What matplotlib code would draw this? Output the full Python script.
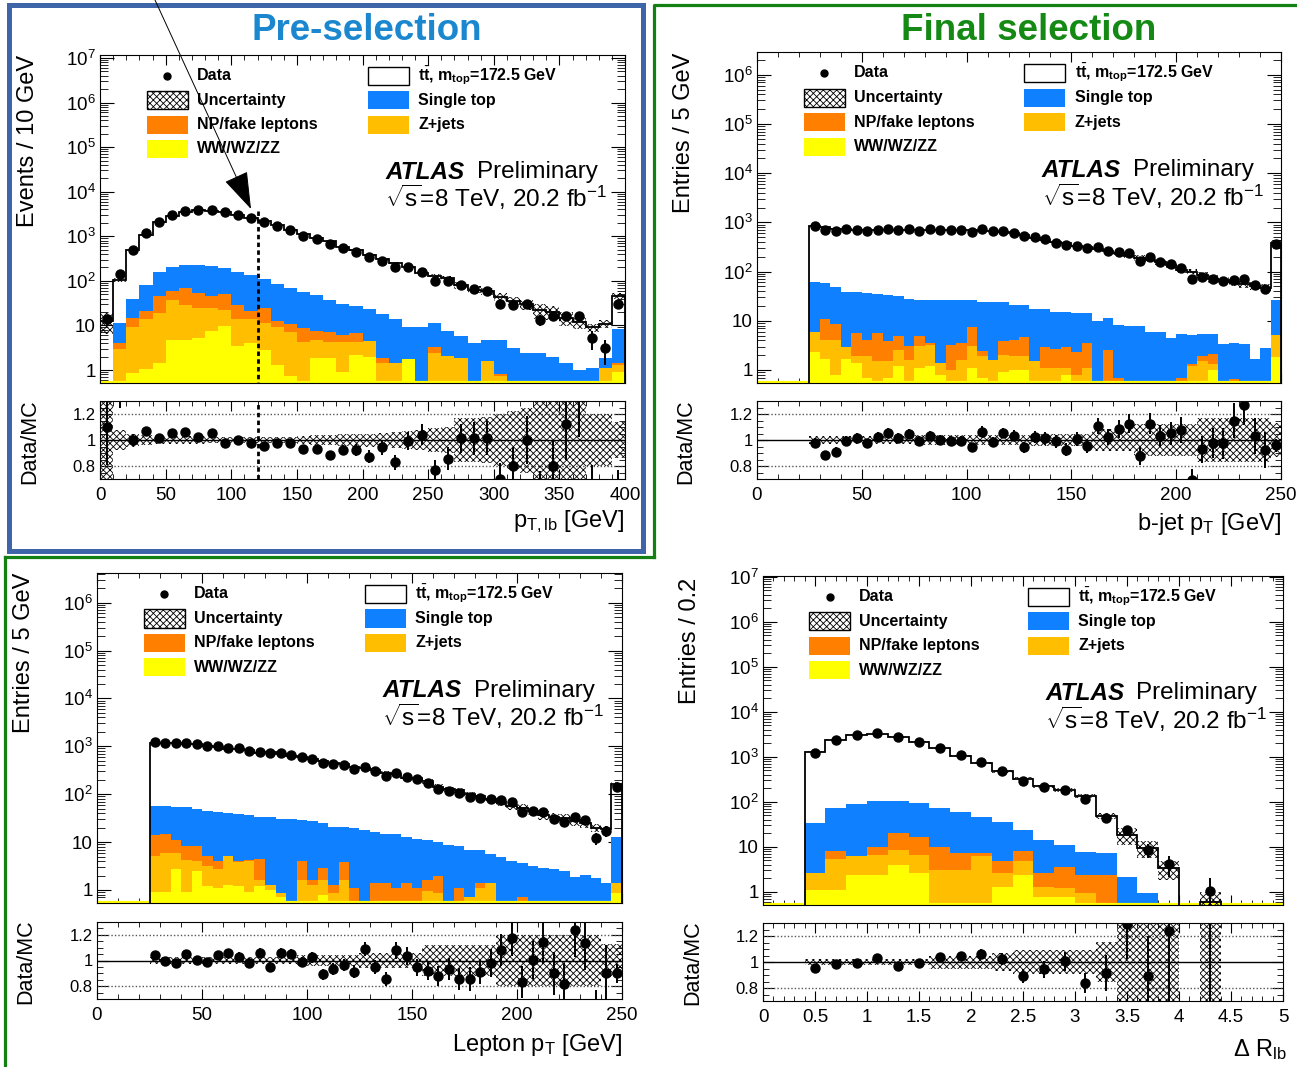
import numpy as np
import matplotlib
matplotlib.use('Agg')
import matplotlib.pyplot as plt
from matplotlib.patches import Rectangle, FancyArrowPatch
from matplotlib.lines import Line2D
from matplotlib.ticker import (MultipleLocator, LogLocator, FixedLocator,
                               FuncFormatter, NullFormatter, FormatStrFormatter,
                               NullLocator)

plt.rcParams['font.family'] = ['Liberation Sans', 'DejaVu Sans']
plt.rcParams['mathtext.fontset'] = 'custom'
plt.rcParams['mathtext.rm'] = 'Liberation Sans'
plt.rcParams['mathtext.it'] = 'Liberation Sans:italic'
plt.rcParams['mathtext.bf'] = 'Liberation Sans:bold'
plt.rcParams['hatch.linewidth'] = 0.6

W, H = 1297, 1067
NAN = np.nan

C_WW = '#ffff00'
C_ZJ = '#ffbf00'
C_FAKE = '#ff7f00'
C_STOP = '#0f80ff'
HATCH = 'xxxxx'

# stacked heights (top edge of each layer, events per bin)
# ratio = Data/MC read from the lower pads, unc = relative MC uncertainty

# --- p_T,lb (pre-selection), 10 GeV bins ---
p1_edges = np.arange(0, 410, 10)
p1_ww = [0, 0, 0.87, 1.04, 1.46, 4.7, 4.7, 5.1, 7.6, 9.7,
         3.45, 3.96, 2.8, 1.3, 0.73, 0, 1.9, 1.9, 0.92, 2.2,
         2.0, 0, 0, 1.8, 0, 0, 0, 0, 0, 0,
         0, 0, 0, 0, 0, 0, 0, 0, 0, 0.9]
p1_zjets = [0, 2.9, 9.0, 14, 18.7, 37, 28.6, 24, 24, 22,
            14.1, 13.7, 11.5, 9.0, 7.2, 4.3, 4.7, 4.3, 4.3, 4.3,
            4.5, 1.4, 1.4, 1.8, 0, 2.45, 2.06, 1.83, 0, 1.6,
            0.73, 0, 0, 0, 0, 0, 0, 0, 1.1, 1.3]
p1_fake = [0, 4.1, 15, 21, 45.7, 60, 68, 54, 45.7, 50.6,
           28.6, 21, 25, 12.7, 10.8, 8.6, 7.6, 7.1, 6.1, 6.6,
           4.5, 1.9, 1.4, 1.8, 0, 3.2, 2.06, 1.83, 0, 1.6,
           0.81, 0, 0, 0, 0, 0, 0, 0, 1.1, 1.4]
p1_stop = [0, 11.5, 39, 79, 155, 200, 230, 230, 214, 190,
           155, 135, 113, 85, 71, 57, 48, 38, 31, 27,
           23, 18, 13.7, 9, 9, 11.5, 7.6, 5.8, 4.1, 4.7,
           4.7, 3.06, 2.4, 2.4, 2.0, 1.46, 1.0, 1.09, 1.9, 8.2]
p1_total = [12.6, 105, 495, 1096, 2073, 2852, 3556, 3824, 3784, 3571,
            3030, 2618, 2165, 1766, 1417, 1118, 925, 770, 586, 488,
            389, 302, 253, 206, 154, 131, 117, 80, 64, 59,
            44, 36, 30, 22, 20.4, 14.6, 12, 9.1, 11, 46]
p1_ratio = [1.10, 1.36, 1.00, 1.068, 1.013, 1.052, 1.06, 1.02, 1.052, 0.98,
            1.00, 0.974, 0.956, 0.974, 0.974, 0.93, 0.93, 0.883, 0.922, 0.922,
            0.873, 0.943, 0.83, 0.995, 1.04, 0.766, 0.857, 1.013, 1.013, 1.013,
            0.70, 0.80, 1.00, 0.60, 0.80, 1.12, 1.36, 0.56, 0.28, 0.65]
p1_unc = [0.5, 0.08, 0.05, 0.04, 0.03, 0.03, 0.03, 0.03, 0.025, 0.025,
          0.02, 0.02, 0.02, 0.025, 0.025, 0.03, 0.035, 0.04, 0.045, 0.05,
          0.05, 0.055, 0.06, 0.07, 0.08, 0.09, 0.1, 0.17, 0.17, 0.18,
          0.2, 0.22, 0.25, 0.35, 0.35, 0.35, 0.3, 0.2, 0.2, 0.14]

# --- b-jet p_T (final selection), 5 GeV bins ---
p2_edges = np.arange(0, 255, 5)
p2_ww = [0, 0, 0, 0, 0, 2.3, 1.7, 0.8, 1.7, 1.4,
         0.7, 0, 0.7, 1.2, 0, 1.1, 1.2, 0.8, 0, 0,
         1.1, 0.7, 0, 0.9, 1.0, 1.0, 0, 0, 0, 0.8,
         0, 0, 0, 0, 0, 0, 0, 0, 0, 0,
         0, 0, 0.6, 1.0, 0, 0, 0, 0, 0, 1.8]
p2_zjets = [0, 0, 0, 0, 0, 6.0, 4.1, 4.1, 3.0, 1.9,
            1.9, 1.5, 1.5, 2.5, 1.6, 3.1, 3.2, 1.4, 1.0, 1.6,
            3.1, 1.9, 1.6, 2.0, 1.9, 1.9, 1.5, 1.1, 1.1, 1.1,
            0.8, 1.1, 0, 0, 0, 0, 0, 0, 0, 0,
            0, 1.2, 1.5, 1.3, 0, 0, 0, 0, 0, 5.1]
p2_fake = [0, 0, 0, 0, 0, 6.0, 11, 8.6, 3.0, 5.7,
           4.0, 5.7, 3.9, 4.9, 3.1, 5.0, 3.6, 1.4, 3.2, 3.5,
           7.6, 2.4, 1.6, 3.9, 4.0, 4.6, 1.5, 2.9, 2.7, 2.9,
           2.3, 3.5, 0, 2.5, 0.7, 0, 0, 0, 0, 0,
           0.7, 1.3, 1.9, 2.1, 0.6, 0.66, 0, 0, 0, 5.1]
p2_stop = [0, 0, 0, 0, 0, 60, 58, 49, 39, 39,
           36, 35, 33, 32, 28, 27, 27, 27, 27, 26,
           27, 24, 24, 24, 21, 20.5, 17, 17.6, 15.3, 15.3,
           14.5, 14.5, 10, 11.5, 8.2, 7.8, 7.8, 6.0, 6.0, 4.4,
           5.3, 5.1, 5.5, 5.5, 3.4, 3.5, 3.3, 1.7, 2.85, 26]
p2_total = [0, 0, 0, 0, 0, 860, 800, 750, 720, 700,
            700, 690, 705, 690, 690, 690, 700, 700, 690, 690,
            690, 680, 670, 630, 600, 560, 490, 445, 390, 375,
            330, 310, 290, 260, 235, 210, 190, 175, 154, 136,
            108, 100, 85, 72, 66, 60, 55, 52, 47, 380]
p2_ratio = [NAN, NAN, NAN, NAN, NAN, 0.979, 0.883, 0.909, 0.995, 1.013,
            0.974, 1.021, 1.055, 1.013, 1.047, 0.99, 1.034, 1.0, 0.995, 0.995,
            0.943, 1.065, 0.987, 1.055, 1.034, 0.943, 1.021, 1.013, 0.99, 0.925,
            1.008, 0.953, 1.11, 1.021, 1.086, 1.125, 0.878, 1.125, 1.034, 1.052,
            1.078, 0.696, 0.93, 0.977, 0.974, 1.15, 1.27, 1.03, 0.922, 0.96]
p2_unc = [0, 0, 0, 0, 0, 0.03, 0.03, 0.03, 0.03, 0.03,
          0.03, 0.03, 0.03, 0.03, 0.03, 0.035, 0.035, 0.035, 0.035, 0.035,
          0.035, 0.035, 0.035, 0.035, 0.035, 0.035, 0.045, 0.045, 0.045, 0.045,
          0.045, 0.045, 0.085, 0.085, 0.085, 0.085, 0.12, 0.12, 0.12, 0.12,
          0.12, 0.12, 0.17, 0.17, 0.17, 0.17, 0.17, 0.17, 0.17, 0.13]

# --- lepton p_T (final selection), 5 GeV bins ---
p3_edges = np.arange(0, 255, 5)
p3_ww = [0, 0, 0, 0, 0, 0.9, 0.9, 2.7, 0.9, 2.5,
         1.2, 1.1, 1.3, 1.2, 0.9, 1.2, 1.0, 0.7, 0, 0,
         0, 0.8, 0, 0, 0, 0, 0, 0, 0, 0,
         0, 0, 0, 0, 0, 0, 0, 0, 0, 0,
         0, 0, 0, 0, 0, 0, 0, 0, 0, 0.85]
p3_zjets = [0, 0, 0, 0, 0, 5.2, 5.8, 5.8, 4.2, 4.0,
            3.1, 2.7, 5.2, 3.8, 4.0, 1.6, 1.3, 0.85, 0, 1.6,
            1.3, 1.6, 0.85, 1.6, 0, 0, 0, 0, 0, 0,
            0, 0.95, 0.85, 0, 0, 0.7, 1.1, 1.4, 0, 0,
            0, 0, 0, 0, 0, 0, 0, 0, 0, 1.4]
p3_fake = [0, 0, 0, 0, 0, 14.4, 15, 10.8, 8.3, 8.1,
           5.2, 4.1, 5.2, 4.1, 4.2, 4.5, 1.3, 0.85, 0, 4.1,
           1.6, 2.9, 1.3, 3.8, 1.1, 0, 1.4, 1.4, 1.1, 1.4,
           1.1, 1.6, 2.0, 0, 1.1, 0.7, 1.4, 1.4, 0, 0,
           0.7, 0, 0, 0, 0, 0, 0, 0, 0, 1.4]
p3_stop = [0, 0, 0, 0, 0, 56, 56, 55, 53, 50,
           45, 43, 40, 38, 36, 34, 33, 31, 30, 29,
           27, 24.5, 21, 21, 19.5, 18, 16.5, 15, 14.5, 12.6,
           11.7, 10.8, 10, 8.7, 8.1, 7, 7, 5.6, 4.8, 4.1,
           3.6, 3.1, 2.9, 2.7, 2.5, 1.9, 2.1, 1.8, 1.43, 12.6]
p3_total = [0, 0, 0, 0, 0, 1200, 1190, 1200, 1135, 1115,
            1030, 975, 885, 880, 825, 730, 770, 675, 627, 597,
            538, 493, 458, 428, 363, 346, 327, 281, 262, 217,
            215, 189, 143, 126, 122, 101, 90, 80, 70, 58,
            52, 45, 37, 33, 32, 27, 25, 20, 19, 160]
p3_ratio = [NAN, NAN, NAN, NAN, NAN, 1.039, 1.0, 0.984, 1.049, 1.005,
            0.987, 1.044, 1.057, 1.031, 0.984, 1.057, 0.953, 1.057, 1.049, 0.987,
            1.026, 0.894, 0.932, 0.966, 0.912, 1.088, 0.948, 0.855, 1.078, 1.036,
            0.948, 0.92, 0.88, 0.935, 0.855, 0.855, 0.914, 0.979, 1.083, 1.174,
            0.834, 1.005, 1.145, 0.90, 0.82, 1.24, 1.14, 0.60, 0.90, 0.90]
p3_unc = [0, 0, 0, 0, 0, 0.03, 0.03, 0.03, 0.03, 0.03,
          0.03, 0.03, 0.03, 0.03, 0.03, 0.03, 0.03, 0.03, 0.03, 0.04,
          0.04, 0.04, 0.04, 0.04, 0.04, 0.06, 0.06, 0.06, 0.06, 0.06,
          0.06, 0.12, 0.12, 0.12, 0.12, 0.12, 0.12, 0.12, 0.2, 0.2,
          0.2, 0.2, 0.2, 0.2, 0.2, 0.2, 0.2, 0.2, 0.13, 0.13]

# --- Delta R_lb (final selection), 0.2 bins ---
p4_edges = np.linspace(0, 5, 26)
p4_ww = [0, 0, 1.09, 1.09, 2.35, 2.35, 3.9, 2.6, 0, 0, 0, 1.3, 2.35,
         0.77, 0.77, 0, 0, 0, 0, 0, 0, 0, 0, 0, 0]
p4_zjets = [0, 0, 2.6, 5.2, 6.2, 6.5, 8.4, 6.7, 3.0, 3.0, 6.2, 2.6, 4.8,
            1.3, 1.2, 0.92, 0, 0, 0, 0, 0, 0, 0, 0, 0]
p4_fake = [0, 0, 2.6, 8.0, 6.2, 9.7, 19.8, 16.7, 9.7, 7.1, 7.3, 4.8, 8.0,
           2.6, 3.6, 2.35, 2.35, 0, 0, 0, 0, 0, 0, 0, 0]
p4_stop = [0, 0, 34, 71, 88, 105, 105, 92, 71, 60, 46, 36, 23.5,
           14, 11, 7.5, 7.1, 2.15, 0.92, 0, 0, 0, 0, 0, 0]
p4_total = [0, 0, 1283, 2376, 3050, 3200, 2778, 2130, 1525, 1025, 715, 471, 328,
            221, 181, 135, 48, 18.6, 9.4, 3.3, 0, 0.6, 0, 0, 0]
p4_ratio = [NAN, NAN, 0.956, 0.987, 0.995, 1.034, 0.972, 0.995, 1.039, 1.044,
            1.065, 1.02, 0.894, 0.946, 1.005, 0.837, 0.917, 1.29, 0.89, 1.24,
            NAN, 1.7, NAN, NAN, NAN]
p4_unc = [0, 0, 0.025, 0.025, 0.025, 0.025, 0.025, 0.025, 0.05, 0.05, 0.05,
          0.07, 0.09, 0.09, 0.09, 0.09, 0.155, 0.4, 0.4, 0.45, 0, 0.6, 0, 0, 0]

legend_left = ['Data', 'Uncertainty', 'NP/fake leptons', 'WW/WZ/ZZ']
legend_right = [r'$\mathbf{t}\bar{\mathbf{t}}$, m$_{\mathbf{top}}$=172.5 GeV',
                'Single top', 'Z+jets']


def to_rect(x0, y0, x1, y1):
    return [x0 / W, 1 - y1 / H, (x1 - x0) / W, (y1 - y0) / H]


def pos(v):
    v = np.asarray(v, dtype=float)
    return np.where(v > 0, v, 1e-3)


def decade_label(v, _):
    if v <= 0:
        return ''
    n = int(round(np.log10(v)))
    if n == 0:
        return '1'
    if n == 1:
        return '10'
    return r'$10^{%d}$' % n


def draw_legend(ax):
    rows = [0.937, 0.862, 0.788, 0.714]
    sw, sh = 0.078, 0.055
    lx, rx = 0.089, 0.51
    kw = dict(transform=ax.transAxes, fontsize=11.5, fontweight='bold',
              va='center', ha='left', zorder=30)
    ax.plot([lx + sw / 2], [rows[0]], 'o', color='black', ms=5,
            transform=ax.transAxes, clip_on=False, zorder=30)
    ax.add_patch(Rectangle((lx, rows[1] - sh / 2), sw, sh, transform=ax.transAxes,
                           facecolor='white', edgecolor='black', hatch=HATCH,
                           lw=1, zorder=30))
    ax.add_patch(Rectangle((lx, rows[2] - sh / 2), sw, sh, transform=ax.transAxes,
                           facecolor=C_FAKE, edgecolor='none', zorder=30))
    ax.add_patch(Rectangle((lx, rows[3] - sh / 2), sw, sh, transform=ax.transAxes,
                           facecolor=C_WW, edgecolor='none', zorder=30))
    for r, lab in zip(rows, legend_left):
        ax.text(0.185, r, lab, **kw)
    ax.add_patch(Rectangle((rx, rows[0] - sh / 2), sw, sh, transform=ax.transAxes,
                           facecolor='white', edgecolor='black', lw=1, zorder=30))
    ax.add_patch(Rectangle((rx, rows[1] - sh / 2), sw, sh, transform=ax.transAxes,
                           facecolor=C_STOP, edgecolor='none', zorder=30))
    ax.add_patch(Rectangle((rx, rows[2] - sh / 2), sw, sh, transform=ax.transAxes,
                           facecolor=C_ZJ, edgecolor='none', zorder=30))
    for r, lab in zip(rows, legend_right):
        ax.text(0.606, r, lab, **kw)
    ax.text(0.543, 0.643, 'ATLAS', transform=ax.transAxes, fontsize=17.5,
            fontweight='bold', fontstyle='italic', va='center', ha='left', zorder=30)
    ax.text(0.718, 0.643, 'Preliminary', transform=ax.transAxes, fontsize=17.5,
            va='center', ha='left', zorder=30)
    ax.text(0.543, 0.565, r'$\sqrt{\mathrm{s}}$=8 TeV, 20.2 fb$^{-1}$',
            transform=ax.transAxes, fontsize=17.5, va='center', ha='left', zorder=30)


def draw_panel(fig, main_box, ratio_box, edges, ww, zj, fake, stop, total,
               ratio, unc, ylim, xmaj, xmin):
    ax = fig.add_axes(to_rect(*main_box))
    rax = fig.add_axes(to_rect(*ratio_box))
    edges = np.asarray(edges, dtype=float)
    centers = 0.5 * (edges[1:] + edges[:-1])
    widths = np.diff(edges)
    total = np.asarray(total, dtype=float)
    ratio = np.asarray(ratio, dtype=float)
    unc = np.asarray(unc, dtype=float)

    layers = [(total, 'white'), (stop, C_STOP), (fake, C_FAKE), (zj, C_ZJ), (ww, C_WW)]
    for z, (lvl, col) in enumerate(layers):
        ax.stairs(pos(lvl), edges, baseline=1e-3, fill=True, facecolor=col,
                  edgecolor='none', lw=0, zorder=1 + z)
    ax.axhline(ylim[0], color=C_WW, lw=3, zorder=6)
    ax.stairs(pos(total), edges, baseline=1e-3, fill=False, color='black',
              lw=1.3, zorder=7)
    has = total > 0
    ax.bar(centers[has], 2 * unc[has] * total[has], bottom=total[has] * (1 - unc[has]),
           width=widths[has], fill=False, hatch=HATCH, edgecolor='black', lw=0, zorder=8)
    data = total * ratio
    ok = np.isfinite(data) & (data > 0)
    ax.errorbar(centers[ok], data[ok], yerr=np.sqrt(data[ok]), fmt='o', ms=6.5,
                color='black', elinewidth=1.4, capsize=0, zorder=9)

    ax.set_yscale('log')
    ax.set_xlim(edges[0], edges[-1])
    ax.set_ylim(*ylim)
    ax.xaxis.set_major_locator(MultipleLocator(xmaj))
    ax.xaxis.set_minor_locator(MultipleLocator(xmin))
    ax.yaxis.set_major_locator(LogLocator(base=10, numticks=30))
    ax.yaxis.set_minor_locator(LogLocator(base=10, subs=np.arange(2, 10), numticks=30))
    ax.yaxis.set_major_formatter(FuncFormatter(decade_label))
    ax.yaxis.set_minor_formatter(NullFormatter())
    ax.tick_params(which='both', direction='in', top=True, right=True,
                   labelbottom=False, labelsize=13.5)
    ax.tick_params(axis='y', which='major', length=10, pad=3)
    ax.tick_params(axis='y', which='minor', length=5.5)
    ax.tick_params(axis='x', which='major', length=7)
    ax.tick_params(axis='x', which='minor', length=3.5)
    for sp in ax.spines.values():
        sp.set_zorder(20)
    draw_legend(ax)

    # ratio pad
    rax.axhline(1.0, color='black', lw=1, zorder=2)
    rax.axhline(1.2, color='#555555', lw=1, ls=(0, (1, 1.5)), zorder=2)
    rax.axhline(0.8, color='#555555', lw=1, ls=(0, (1, 1.5)), zorder=2)
    rax.bar(centers[has], 2 * unc[has], bottom=1 - unc[has], width=widths[has],
            fill=False, hatch=HATCH, edgecolor='black', lw=0, zorder=3)
    rax.errorbar(centers[ok], ratio[ok], yerr=np.sqrt(data[ok]) / total[ok], fmt='o',
                 ms=6.5, color='black', elinewidth=1.4, capsize=0, zorder=5)
    rax.set_xlim(edges[0], edges[-1])
    rax.set_ylim(0.7, 1.3)
    rax.yaxis.set_major_locator(FixedLocator([0.8, 1.0, 1.2]))
    rax.yaxis.set_minor_locator(FixedLocator([0.75, 0.85, 0.9, 0.95, 1.05, 1.1, 1.15, 1.25]))
    rax.yaxis.set_major_formatter(FormatStrFormatter('%g'))
    rax.xaxis.set_major_locator(MultipleLocator(xmaj))
    rax.xaxis.set_minor_locator(MultipleLocator(xmin))
    rax.xaxis.set_major_formatter(FormatStrFormatter('%g'))
    rax.tick_params(which='both', direction='in', top=True, right=True, labelsize=13.5)
    rax.tick_params(axis='y', labelsize=12)
    rax.tick_params(axis='x', which='major', length=7, pad=6)
    rax.tick_params(axis='x', which='minor', length=3.5)
    rax.tick_params(axis='y', which='major', length=8, pad=3)
    rax.tick_params(axis='y', which='minor', length=4)
    return ax, rax


def ftext(x, y, s, **kw):
    fig.text(x / W, 1 - y / H, s, **kw)


fig = plt.figure(figsize=(W / 100, H / 100), dpi=100)
fig.patch.set_facecolor('white')

ax1, rax1 = draw_panel(fig, (100, 55, 625, 383), (100, 401, 625, 479), p1_edges,
                       p1_ww, p1_zjets, p1_fake, p1_stop, p1_total, p1_ratio, p1_unc,
                       (0.511, 1.17e7), 50, 10)
ax2, rax2 = draw_panel(fig, (757, 52, 1281, 383), (757, 401, 1281, 479), p2_edges,
                       p2_ww, p2_zjets, p2_fake, p2_stop, p2_total, p2_ratio, p2_unc,
                       (0.544, 2.9e6), 50, 10)
ax3, rax3 = draw_panel(fig, (97, 573, 622, 903), (97, 922, 622, 999), p3_edges,
                       p3_ww, p3_zjets, p3_fake, p3_stop, p3_total, p3_ratio, p3_unc,
                       (0.535, 4.15e6), 50, 10)
ax4, rax4 = draw_panel(fig, (763, 576, 1283, 905), (763, 923, 1283, 1001), p4_edges,
                       p4_ww, p4_zjets, p4_fake, p4_stop, p4_total, p4_ratio, p4_unc,
                       (0.506, 1.04e7), 0.5, 0.1)

# cut marker at 120 GeV in the pre-selection panel
ax1.plot([120, 120], [3700, 0.511], color='black', lw=2, ls=(0, (1.6, 1.2)), zorder=12)
rax1.axvline(120, color='black', lw=2, ls=(0, (1.6, 1.2)), zorder=6)

# axis titles
ylab = dict(rotation=90, ha='center', va='top', fontsize=17)
ftext(28, 55, 'Events / 10 GeV', **ylab)
ftext(684, 53, 'Entries / 5 GeV', **ylab)
ftext(24, 573, 'Entries / 5 GeV', **ylab)
ftext(690, 578, 'Entries / 0.2', **ylab)
rlab = dict(rotation=90, ha='center', va='center', fontsize=15.5)
ftext(30, 442, 'Data/MC', **rlab)
ftext(686, 442, 'Data/MC', **rlab)
ftext(26, 962, 'Data/MC', **rlab)
ftext(693, 963, 'Data/MC', **rlab)
xlab = dict(ha='right', va='center', fontsize=17)
ftext(625, 522, r'p$_{\rm T,lb}$ [GeV]', **xlab)
ftext(1281, 524, r'b-jet p$_{\rm T}$ [GeV]', **xlab)
ftext(622, 1045, r'Lepton p$_{\rm T}$ [GeV]', **xlab)
ftext(1287, 1050, r'$\Delta$ R$_{\rm lb}$', **xlab)

# section titles and frames
ftext(367, 30, 'Pre-selection', ha='center', va='center', fontsize=26.5,
      fontweight='bold', color='#1a87cf')
ftext(1029, 30, 'Final selection', ha='center', va='center', fontsize=26.5,
      fontweight='bold', color='#148a14')

fig.add_artist(Rectangle((9 / W, 1 - 551 / H), (643 - 9) / W, (551 - 5) / H,
                         transform=fig.transFigure, fill=False,
                         edgecolor='#3d65a8', lw=3.6))
green = '#138013'
for xs, ys in [([654, 654, 1297], [557, 4.5, 4.5]),
               ([5, 654], [557, 557]),
               ([5, 5], [557, 1067])]:
    fig.add_artist(Line2D(np.array(xs) / W, 1 - np.array(ys) / H,
                          transform=fig.transFigure, color=green, lw=2.3))

arrow = FancyArrowPatch((155 / W, 1.0), (251 / W, 1 - 209 / H),
                        transform=fig.transFigure,
                        arrowstyle='-|>,head_length=2.4,head_width=0.8',
                        mutation_scale=10, lw=0.7, color='black',
                        shrinkA=0, shrinkB=0)
fig.add_artist(arrow)

fig.savefig('out.png', dpi=100)
